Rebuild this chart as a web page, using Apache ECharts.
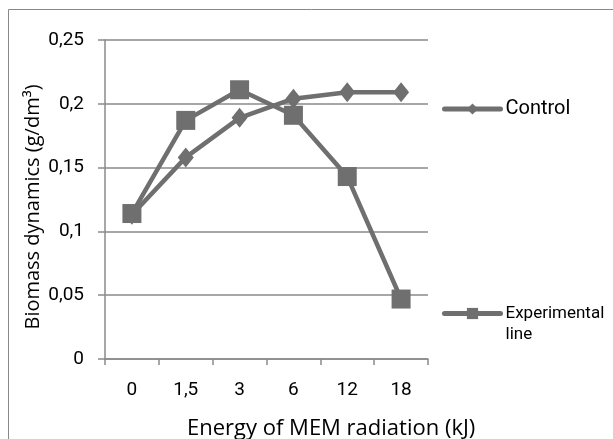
<!DOCTYPE html>
<html>
<head>
<meta charset="utf-8">
<script src="https://cdn.jsdelivr.net/npm/echarts@6/dist/echarts.min.js"></script>
<style>
html,body{margin:0;padding:0;background:#fff;}
#chart{width:613px;height:439px;}
</style>
</head>
<body>
<div id="chart"></div>
<script>
const categories = ['0', '1,5', '3', '6', '12', '18'];
const controlValues = [0.113, 0.158, 0.189, 0.204, 0.209, 0.209];
const experimentalValues = [0.114, 0.187, 0.211, 0.191, 0.143, 0.047];
const yTicks = [0, 0.05, 0.1, 0.15, 0.2, 0.25];
const seriesNames = ['Control', 'Experimental line'];
const xTitle = 'Energy of MEM radiation (kJ)';
const yTitle = 'Biomass dynamics (g/dm³)';

const lineColor = '#6f6f6f';
const gridColor = '#8a8a8a';

const chart = echarts.init(document.getElementById('chart'), null, {renderer: 'canvas'});
chart.setOption({
  animation: false,
  backgroundColor: '#fff',
  grid: {left: 105, top: 40, right: 185, bottom: 80, containLabel: false},
  xAxis: {
    type: 'category',
    data: categories,
    boundaryGap: true,
    axisLine: {lineStyle: {color: gridColor, width: 1.5}},
    axisTick: {show: true, length: 6, inside: false, lineStyle: {color: gridColor, width: 1.5}},
    axisLabel: {color: '#000', fontFamily: 'Roboto', fontSize: 19, margin: 22},
    splitLine: {show: false}
  },
  yAxis: {
    type: 'value',
    min: yTicks[0],
    max: yTicks[yTicks.length - 1],
    interval: yTicks[1] - yTicks[0],
    axisLine: {show: true, lineStyle: {color: gridColor, width: 1.5}},
    axisTick: {show: true, length: 7, lineStyle: {color: gridColor, width: 1.5}},
    axisLabel: {
      color: '#000', fontFamily: 'Roboto', fontSize: 19, margin: 21,
      formatter: v => String(Math.round(v * 100) / 100).replace('.', ',')
    },
    splitLine: {show: true, lineStyle: {color: gridColor, width: 1.5}}
  },
  legend: [
    {
      data: [seriesNames[0]],
      left: 442, top: 98, padding: 0,
      itemWidth: 56, itemHeight: 14, itemGap: 0,
      lineStyle: {width: 5, cap: 'round'},
      textStyle: {color: '#000', fontFamily: 'Roboto', fontSize: 20, lineHeight: 22}
    },
    {
      data: [seriesNames[1]],
      left: 442, top: 282, padding: 0,
      itemWidth: 56, itemHeight: 14, itemGap: 0,
      lineStyle: {width: 5, cap: 'round'},
      formatter: n => '\n' + n.replace(' ', '\n'),
      textStyle: {color: '#000', fontFamily: 'Roboto', fontSize: 17, lineHeight: 21}
    }
  ],
  graphic: [
    {type: 'rect', shape: {x: 8.5, y: 9.5, width: 700, height: 500}, style: {fill: 'none', stroke: '#888', lineWidth: 1}, silent: true},
    {type: 'text', left: 187, top: 418, style: {text: xTitle, font: '22px "Open Sans"', fill: '#000'}},
    {type: 'text', x: 33, y: 207, rotation: Math.PI / 2, style: {text: yTitle, font: '20px "Open Sans"', fill: '#000', align: 'center', verticalAlign: 'middle'}}
  ],
  series: [
    {
      name: seriesNames[0], type: 'line', data: controlValues,
      symbol: 'diamond', symbolSize: [16, 20],
      lineStyle: {color: lineColor, width: 4.5},
      itemStyle: {color: lineColor},
      z: 3
    },
    {
      name: seriesNames[1], type: 'line', data: experimentalValues,
      symbol: 'rect', symbolSize: 19,
      lineStyle: {color: lineColor, width: 4.5},
      itemStyle: {color: lineColor},
      z: 4
    }
  ]
});
</script>
</body>
</html>
